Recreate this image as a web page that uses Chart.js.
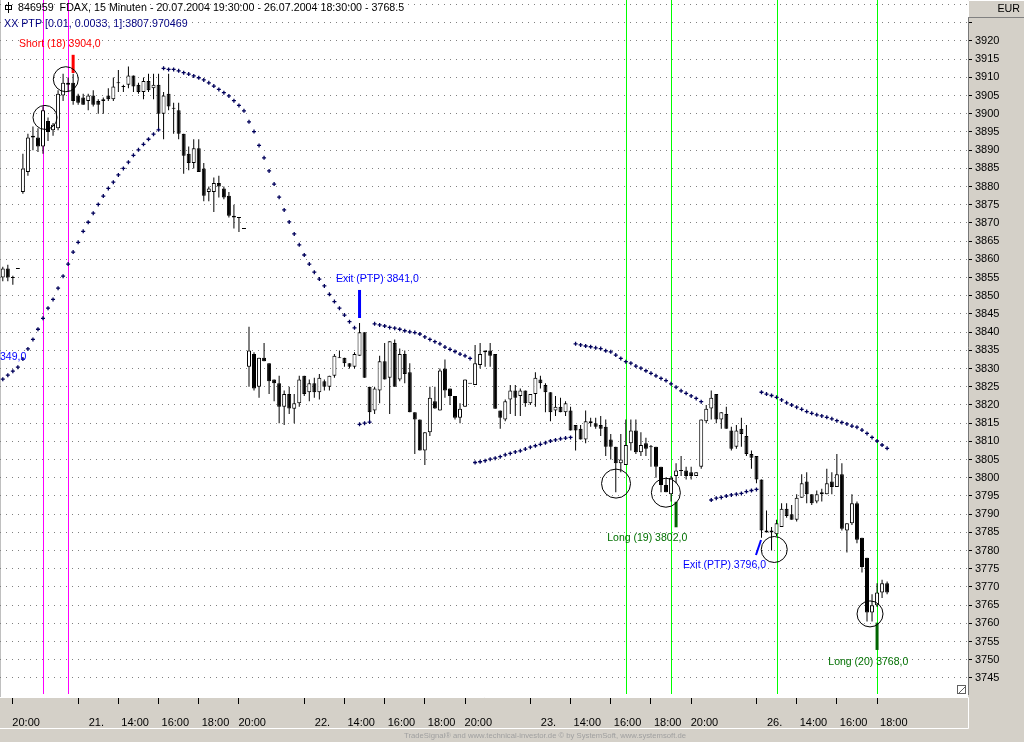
<!DOCTYPE html>
<html>
<head>
<meta charset="utf-8">
<title>FDAX 15 Minuten</title>
<script src="https://cdn.jsdelivr.net/npm/chart.js@4.4.1/dist/chart.umd.min.js"></script>
<style>
  html, body { margin: 0; padding: 0; background: #d4d0c8; }
  canvas { display: block; }
</style>
</head>
<body>
<canvas id="chart" width="1024" height="742"></canvas>
<script>
// one bar per 15 minutes, index 0 = 20.07.2004 19:30, index 176 = 26.07.2004 18:30
const opens = [
  3855, 3857.5, 3855, 3857.5, 3878.5, 3884, 3894, 3893.5, 3891, 3898,
  3895.5, 3896, 3905, 3908.5, 3908.5, 3905, 3904.5, 3903.5, 3905, 3903.5,
  3903.5, 3905, 3904, 3908.5, 3907.5, 3908, 3910.5, 3908, 3906, 3909,
  3907, 3908, 3900, 3905.5, 3901.5, 3901, 3894.5, 3889, 3886.5, 3890.5,
  3885, 3878.5, 3878.5, 3881, 3879.5, 3877.5, 3872, 3871.5, 3868.5, 3830.5,
  3834, 3825, 3833, 3831.5, 3827, 3826, 3819.5, 3823, 3819, 3820.5,
  3828, 3823.5, 3826, 3823.5, 3826.5, 3825, 3828, 3833, 3833, 3831.5,
  3830.5, 3833.5, 3840, 3825, 3818.5, 3824, 3832, 3827.5, 3837, 3827,
  3834, 3829, 3818, 3816, 3807.5, 3812.5, 3821, 3818.5, 3830, 3824.5,
  3822.5, 3816.5, 3819.5, 3826, 3825.5, 3831, 3834.5, 3835, 3834, 3818.5,
  3816, 3821.5, 3824, 3822.5, 3824, 3820.5, 3823, 3827, 3825.5, 3823.5,
  3818.5, 3819.5, 3818, 3818.5, 3814.5, 3813.5, 3810.5, 3815.5, 3815, 3814.5,
  3814, 3810.5, 3808.5, 3804, 3803.5, 3809.5, 3813, 3807, 3809.5, 3808.5,
  3808.5, 3803, 3798, 3795.5, 3800.5, 3802, 3802, 3801.5, 3800.5, 3803,
  3815.5, 3819, 3823, 3816, 3817.5, 3813, 3808.5, 3813.5, 3811.5, 3806.5,
  3806, 3799.5, 3785, 3785.5, 3784.5, 3786.5, 3791.5, 3790, 3788.5, 3794.5,
  3799, 3795.5, 3793.5, 3796, 3795.5, 3799, 3797.5, 3801, 3785.5, 3787.5,
  3793, 3783.5, 3778, 3763, 3765, 3768.5, 3771
];
const highs = [
  3858, 3858.5, 3855.5, 3857.5, 3889, 3894.5, 3896.5, 3896, 3902, 3899,
  3897.5, 3906.5, 3911, 3910, 3911, 3905.5, 3905.5, 3905.5, 3906.5, 3904,
  3904.5, 3907, 3910, 3912, 3908, 3913, 3910.5, 3908.5, 3910, 3911,
  3911, 3911, 3906, 3911, 3903, 3903, 3894.5, 3891, 3893, 3893,
  3886.5, 3880, 3882.5, 3883, 3880, 3878.5, 3875, 3871.5, 3868.5, 3841.5,
  3834.5, 3833, 3837, 3831.5, 3827, 3828, 3824, 3825, 3823, 3828,
  3828, 3827, 3827.5, 3828.5, 3827, 3828, 3834, 3835, 3833, 3831.5,
  3834.5, 3842.5, 3840, 3825, 3825, 3833.5, 3837, 3837.5, 3838, 3835.5,
  3835, 3831.5, 3818, 3816, 3812.5, 3825, 3825, 3830, 3832.5, 3824.5,
  3822.5, 3820.5, 3827, 3826, 3836.5, 3837, 3835, 3837, 3834, 3818.5,
  3821.5, 3825.5, 3825.5, 3824.5, 3824, 3823, 3829, 3828, 3826, 3823.5,
  3822.5, 3822, 3821, 3819.5, 3814.5, 3814.5, 3818.5, 3816.5, 3816.5, 3817,
  3816, 3812, 3808.5, 3812, 3816, 3816, 3816, 3812.5, 3811, 3809,
  3808.5, 3803, 3800, 3800.5, 3804, 3806, 3803, 3803, 3801.5, 3816,
  3820, 3824, 3823, 3818, 3819.5, 3814, 3814.5, 3816.5, 3814.5, 3807.5,
  3806, 3799.5, 3791, 3786.5, 3788.5, 3793, 3793, 3792.5, 3795.5, 3801,
  3801.5, 3795.5, 3796.5, 3797, 3802.5, 3801.5, 3806.5, 3804, 3787.5, 3795.5,
  3793.5, 3783.5, 3778, 3768, 3771, 3772, 3771.5
];
const lows = [
  3854, 3854, 3853, 3857.5, 3878, 3883, 3890, 3889.5, 3889, 3892.5,
  3894, 3895.5, 3903.5, 3906, 3902.5, 3902.5, 3902.5, 3901, 3902, 3900,
  3900, 3903.5, 3903.5, 3906, 3906, 3907, 3906, 3905.5, 3904, 3906,
  3904, 3895.5, 3893, 3901, 3894.5, 3893, 3883.5, 3884.5, 3885, 3884,
  3876, 3876, 3873, 3877, 3876.5, 3871.5, 3868.5, 3867.5, 3868.5, 3825,
  3824, 3822, 3832, 3823, 3821, 3815, 3814.5, 3817.5, 3815, 3819.5,
  3822.5, 3821, 3822, 3821.5, 3824, 3824, 3827.5, 3833, 3830.5, 3830,
  3830, 3833.5, 3827.5, 3815, 3817.5, 3820.5, 3827, 3817.5, 3825, 3826.5,
  3826, 3818, 3806.5, 3807.5, 3803.5, 3811.5, 3819, 3818.5, 3822, 3820,
  3816, 3815, 3819.5, 3826, 3825.5, 3830, 3830.5, 3830.5, 3819, 3813.5,
  3815.5, 3817.5, 3817, 3817, 3819.5, 3820, 3819.5, 3824.5, 3818, 3815.5,
  3817, 3818, 3817, 3813, 3807.5, 3810.5, 3809.5, 3814, 3813.5, 3811.5,
  3806, 3805, 3796, 3801.5, 3803.5, 3807.5, 3806.5, 3806, 3806, 3803,
  3800, 3796, 3796, 3793.5, 3798.5, 3800.5, 3799.5, 3799.5, 3800.5, 3802.5,
  3815, 3816, 3815, 3813.5, 3813.5, 3807.5, 3808, 3808.5, 3806, 3802.5,
  3798.5, 3783.5, 3785, 3780, 3784, 3786.5, 3789, 3788.5, 3788, 3794.5,
  3793, 3792.5, 3793, 3793.5, 3795.5, 3795.5, 3797.5, 3785.5, 3779.5, 3787,
  3782, 3774, 3760.5, 3760.5, 3764.5, 3767, 3768
];
const closes = [
  3857.5, 3855, 3855, 3857.5, 3885, 3893.5, 3893.5, 3891, 3901, 3895,
  3897, 3905.5, 3908.5, 3908, 3903.5, 3903, 3902.5, 3905, 3902.5, 3902.5,
  3904, 3904, 3907.5, 3908.5, 3907.3, 3910.5, 3907.5, 3906, 3909, 3906.5,
  3908, 3900, 3905, 3902, 3901.5, 3894.5, 3888.5, 3886.5, 3890.5, 3884,
  3877.5, 3879.5, 3881, 3880, 3877, 3872, 3871.5, 3871.5, 3868.5, 3835,
  3824.5, 3833, 3832, 3826.5, 3826, 3819.5, 3823, 3819, 3820.5, 3827,
  3823, 3826, 3823.5, 3827.5, 3825, 3828, 3833.5, 3833, 3831.5, 3830.5,
  3834, 3840, 3827.5, 3818, 3824.5, 3832, 3827, 3837.5, 3825, 3834,
  3828.5, 3818, 3816, 3807.5, 3812.5, 3822, 3819, 3829.5, 3824, 3822.5,
  3816.5, 3819, 3827, 3826, 3831.5, 3834, 3835, 3833.5, 3819, 3816.5,
  3821, 3824, 3822, 3824, 3820.5, 3823, 3827.5, 3826, 3823.5, 3818,
  3819.5, 3818, 3820.5, 3813, 3813, 3810.5, 3815.5, 3815, 3814, 3813.5,
  3808.5, 3808.5, 3804, 3805, 3809, 3813, 3807, 3809, 3808, 3808.5,
  3803, 3798, 3796, 3800, 3802, 3802, 3800.5, 3800.5, 3801.5, 3816,
  3819, 3822, 3816, 3818, 3813.5, 3808, 3813, 3812, 3806.5, 3805.5,
  3799.5, 3785.5, 3785.5, 3785, 3787.5, 3791.5, 3789.5, 3788.5, 3794.5, 3798.5,
  3795.5, 3793, 3795.5, 3795.5, 3798.5, 3797.5, 3801, 3786, 3787.5, 3793,
  3783, 3775.5, 3763, 3765, 3768.5, 3771, 3768.5
];

// PTP [0.01, 0.0033, 1] stop values, one per bar (null = no value drawn)
const ptpValues = [
  3827.1, 3828.2, 3829.3, 3830.4, 3832.6, 3835.4, 3838.0, 3840.8, 3843.8, 3846.6,
  3849.0, 3852.1, 3855.4, 3858.7, 3862.0, 3864.7, 3867.7, 3870.2, 3872.7, 3875.1,
  3877.4, 3879.5, 3881.2, 3883.2, 3885.0, 3886.7, 3888.6, 3890.1, 3891.6, 3893.0,
  3894.4, 3895.6, 3912.5, 3912.2, 3912.2, 3911.8, 3911.3, 3910.9, 3910.4, 3909.9,
  3909.3, 3908.5, 3907.6, 3906.7, 3905.8, 3904.9, 3903.6, 3902.3, 3900.8, 3897.8,
  3895.1, 3891.3, 3887.9, 3884.3, 3880.7, 3877.1, 3873.6, 3870.3, 3867.0, 3864.0,
  3861.2, 3858.7, 3856.5, 3854.6, 3852.7, 3850.4, 3848.4, 3846.6, 3844.7, 3842.9,
  3841.2, 3814.7, 3815.0, 3815.3, 3842.3, 3842.0, 3841.7, 3841.3, 3841.1, 3840.8,
  3840.4, 3840.1, 3839.9, 3839.5, 3838.7, 3838.0, 3837.4, 3836.8, 3835.9, 3835.3,
  3834.7, 3834.0, 3833.5, 3832.8, 3804.2, 3804.4, 3804.7, 3805.1, 3805.4, 3805.8,
  3806.3, 3806.7, 3807.1, 3807.4, 3807.9, 3808.4, 3808.8, 3809.2, 3809.6, 3810.1,
  3810.4, 3810.7, 3810.9, 3811.1, 3836.8, 3836.5, 3836.2, 3836.0, 3835.7, 3835.5,
  3834.9, 3834.6, 3833.7, 3832.8, 3831.9, 3831.5, 3830.7, 3830.1, 3829.4, 3828.7,
  3828.0, 3827.3, 3826.7, 3825.8, 3824.9, 3823.9, 3823.2, 3822.5, 3821.8, 3820.9,
  null,   3793.9, 3794.4, 3794.6, 3795.0, 3795.3, 3795.5, 3795.7, 3796.2, 3796.5,
  3796.8, 3823.5, 3823.0, 3822.6, 3822.1, 3821.4, 3820.6, 3820.0, 3819.4, 3818.8,
  3818.2, 3817.7, 3817.3, 3817.0, 3816.6, 3816.2, 3815.7, 3815.2, 3814.8, 3814.2,
  3813.9, 3813.1, 3812.2, 3811.1, 3810.1, 3809.0, 3808.1
];

// time axis
const xTickBars = [2, 15, 23, 31, 39, 47, 60, 68, 76, 84, 92, 105, 113, 121, 129, 137, 150, 158, 166, 174];
const xTickLabels = ['20:00', '21.', '14:00', '16:00', '18:00', '20:00', '22.', '14:00', '16:00', '18:00',
  '20:00', '23.', '14:00', '16:00', '18:00', '20:00', '26.', '14:00', '16:00', '18:00'];

// price axis
const yTickValues = [3745, 3750, 3755, 3760, 3765, 3770, 3775, 3780, 3785, 3790, 3795, 3800,
  3805, 3810, 3815, 3820, 3825, 3830, 3835, 3840, 3845, 3850, 3855, 3860, 3865, 3870,
  3875, 3880, 3885, 3890, 3895, 3900, 3905, 3910, 3915, 3920, 3925, 3930];
const yLabelMax = 3920;

// trade signals
const shortLineBars = [8, 13];
const longLineBars = [124, 133, 154, 174];
const markerBars = [14, 71, 134, 174];
const markerFrom = [3911.2, 3843.9, 3786.4, 3752.7];
const markerTo = [3916.2, 3851.6, 3793.4, 3760.2];
const circleBars = [8.4, 12.54, 122.05, 131.97, 153.54, 172.6];
const circlePrices = [3899.0, 3909.5, 3798.4, 3795.9, 3780.3, 3762.6];
const exitSlashBars = [149.9, 150.9];
const exitSlashPrices = [3778.8, 3782.9];
const signalTexts = ['Short (18) 3904,0', 'Exit (PTP) 3841,0', 'Long (19) 3802,0', 'Exit (PTP) 3796,0', 'Long (20) 3768,0', '349,0'];
const signalTextBars = [3.22, 66.3, 120.3, 135.4, 164.3, -0.55];
const signalTextPrices = [3919.2, 3854.6, 3783.5, 3776.0, 3749.4, 3833.2];

const FONT = "'Liberation Sans', Arial, sans-serif";
const X_MIN = -0.557, X_MAX = 192.1;
const BAR_PX = 5.024;

const wickData = opens.map((o, i) => ({ x: i, y: [lows[i], highs[i]] }));
const bodyData = opens.map((o, i) => {
  const c = closes[i];
  if (Math.abs(c - o) < 0.3) return { x: i, y: [o - 0.14, o + 0.14] };
  return { x: i, y: [o, c] };
});
const bodyFill = opens.map((o, i) => (closes[i] - o >= 0.3 ? '#ffffff' : '#000000'));

const markerColors = ['#ff0000', '#0000ff', '#006400', '#006400'];
const textColors = ['#ff0000', '#0000ff', '#007000', '#0000ff', '#007000', '#0000ff'];

const chromePlugin = {
  id: 'chrome',
  beforeDraw(chart) {
    const { ctx, chartArea: a } = chart;
    ctx.save();
    ctx.fillStyle = '#d4d0c8';
    ctx.fillRect(0, 0, chart.width, chart.height);
    ctx.fillStyle = '#ffffff';
    ctx.fillRect(a.left, a.top, a.right - a.left, a.bottom - a.top + 3);
    ctx.fillStyle = '#c0c0c0';
    ctx.fillRect(0, 0, 1, a.bottom + 3);
    // bottom time panel frame
    ctx.strokeStyle = '#ffffff';
    ctx.lineWidth = 1;
    ctx.beginPath();
    ctx.moveTo(0, 697.5); ctx.lineTo(a.right + 0.5, 697.5);
    ctx.moveTo(a.right + 0.5, 697.5); ctx.lineTo(a.right + 0.5, 728.5);
    ctx.moveTo(0, 728.5); ctx.lineTo(a.right + 0.5, 728.5);
    ctx.stroke();
    ctx.restore();
  },
  beforeDatasetsDraw(chart) {
    const { ctx, chartArea: a, scales } = chart;
    ctx.save();
    ctx.lineWidth = 1;
    const vline = (bar, color) => {
      const x = Math.round(scales.x.getPixelForValue(bar)) + 0.5;
      ctx.strokeStyle = color;
      ctx.beginPath();
      ctx.moveTo(x, a.top);
      ctx.lineTo(x, a.bottom);
      ctx.stroke();
    };
    shortLineBars.forEach(b => vline(b, '#ff00ff'));
    longLineBars.forEach(b => vline(b, '#00ff00'));
    ctx.restore();
  },
  afterDatasetsDraw(chart) {
    const { ctx, scales, chartArea: a } = chart;
    ctx.save();
    ctx.font = '10.5px ' + FONT;
    ctx.textBaseline = 'middle';
    ctx.textAlign = 'left';
    signalTexts.forEach((t, k) => {
      ctx.fillStyle = textColors[k];
      ctx.fillText(t, scales.x.getPixelForValue(signalTextBars[k]), scales.y.getPixelForValue(signalTextPrices[k]));
    });
    // size grip in the lower right corner of the plot
    ctx.strokeStyle = '#606060';
    ctx.lineWidth = 1;
    ctx.strokeRect(a.right - 10.5, a.bottom - 8.5, 8, 8);
    ctx.beginPath();
    ctx.moveTo(a.right - 9, a.bottom - 1);
    ctx.lineTo(a.right - 3, a.bottom - 7);
    ctx.stroke();
    ctx.restore();
  },
  afterDraw(chart) {
    const { ctx, chartArea: a } = chart;
    ctx.save();
    // header
    ctx.strokeStyle = '#000';
    ctx.lineWidth = 1;
    ctx.strokeRect(5.5, 5.5, 6, 4);
    ctx.beginPath();
    ctx.moveTo(8.5, 2); ctx.lineTo(8.5, 13);
    ctx.stroke();
    ctx.font = '10.7px ' + FONT;
    ctx.textBaseline = 'middle';
    ctx.fillStyle = '#000000';
    ctx.fillText('846959  FDAX, 15 Minuten - 20.07.2004 19:30:00 - 26.07.2004 18:30:00 - 3768.5', 18, 8);
    ctx.fillStyle = '#000080';
    ctx.fillText('XX PTP [0.01, 0.0033, 1]:3807.970469', 4, 24);
    // currency box above price axis
    ctx.fillStyle = '#d4d0c8';
    ctx.fillRect(a.right, 0, chart.width - a.right, 18);
    ctx.strokeStyle = '#ffffff';
    ctx.beginPath();
    ctx.moveTo(a.right + 0.5, 17); ctx.lineTo(a.right + 0.5, 0.5); ctx.lineTo(chart.width, 0.5);
    ctx.stroke();
    ctx.strokeStyle = '#808080';
    ctx.beginPath();
    ctx.moveTo(a.right, 17.5); ctx.lineTo(chart.width, 17.5);
    ctx.stroke();
    ctx.fillStyle = '#000000';
    ctx.textAlign = 'right';
    ctx.fillText('EUR', 1020, 9);
    // footer
    ctx.textAlign = 'center';
    ctx.font = '7.7px ' + FONT;
    ctx.fillStyle = '#a0a0a0';
    ctx.fillText('TradeSignal\u00ae and www.technical-investor.de \u00a9 by SystemSoft, www.systemsoft.de', 545, 736);
    ctx.restore();
  }
};

new Chart(document.getElementById('chart'), {
  type: 'bar',
  data: {
    datasets: [
      {
        type: 'bar', label: 'wick', data: wickData, order: 6, grouped: false,
        barThickness: 1, backgroundColor: '#000000', borderWidth: 0, inflateAmount: 0
      },
      {
        type: 'bar', label: 'body', data: bodyData, order: 5, grouped: false,
        barThickness: 4, backgroundColor: bodyFill, borderColor: '#000000', borderWidth: 1,
        borderSkipped: false, inflateAmount: 0
      },
      {
        type: 'scatter', label: 'PTP', order: 4,
        data: ptpValues.map((v, i) => ({ x: i, y: v })),
        pointStyle: 'cross', pointRadius: 2, borderWidth: 1.3, borderColor: '#00005a'
      },
      {
        type: 'bar', label: 'marker', order: 3, grouped: false,
        data: markerBars.map((b, k) => ({ x: b, y: [markerFrom[k], markerTo[k]] })),
        barThickness: 3, backgroundColor: markerColors, borderWidth: 0, inflateAmount: 0
      },
      {
        type: 'line', label: 'exit', order: 2,
        data: exitSlashBars.map((b, k) => ({ x: b, y: exitSlashPrices[k] })),
        borderColor: '#0000ff', borderWidth: 2, pointRadius: 0
      },
      {
        type: 'scatter', label: 'circle', order: 1,
        data: circleBars.map((b, k) => ({ x: b, y: circlePrices[k] })),
        pointStyle: 'circle', pointRadius: [12, 12.5, 14.5, 14.5, 13, 13],
        backgroundColor: 'rgba(0,0,0,0)', borderColor: '#000000', borderWidth: 1
      }
    ]
  },
  options: {
    responsive: false,
    animation: false,
    devicePixelRatio: 1,
    layout: { autoPadding: false, padding: { left: 0, right: 0, top: 0, bottom: 14 } },
    plugins: { legend: { display: false }, tooltip: { enabled: false } },
    scales: {
      x: {
        type: 'linear', position: 'bottom', min: X_MIN, max: X_MAX, offset: false, weight: 0,
        afterBuildTicks: s => { s.ticks = xTickBars.map(v => ({ value: v })); },
        afterFit: s => { s.height = 10; s.paddingLeft = 0; s.paddingRight = 0; },
        ticks: { display: false },
        grid: {
          display: true, offset: false, drawOnChartArea: false, drawTicks: true,
          tickLength: 10, tickColor: '#000000', tickWidth: 1, tickBorderDash: [0, 4, 6, 100]
        },
        border: { display: false }
      },
      xl: {
        type: 'linear', position: 'bottom', min: X_MIN, max: X_MAX, offset: false, weight: 1,
        afterBuildTicks: s => {
          s.ticks = xTickBars.map((b, k) => {
            const lab = xTickLabels[k];
            const shiftPx = lab.endsWith('.') ? 10.5 : (lab.startsWith('1') ? 3 : -0.5);
            return { value: b + shiftPx / BAR_PX };
          });
        },
        afterFit: s => { s.height = 24; s.paddingLeft = 0; s.paddingRight = 0; },
        ticks: {
          autoSkip: false, maxRotation: 0, minRotation: 0, align: 'start', padding: 4,
          color: '#000000', font: { family: FONT, size: 11 },
          callback: (v, k) => xTickLabels[k]
        },
        grid: { display: false },
        border: { display: false }
      },
      y: {
        type: 'linear', position: 'right', min: 3740.6, max: 3931.26, beginAtZero: false,
        afterBuildTicks: s => { s.ticks = yTickValues.map(v => ({ value: v })); },
        afterFit: s => { s.width = 56; s.paddingTop = 0; s.paddingBottom = 0; },
        ticks: {
          padding: 3, color: '#000000', font: { family: FONT, size: 11 },
          callback: v => (v <= yLabelMax ? String(v) : '')
        },
        grid: {
          color: '#808080', lineWidth: 1, drawOnChartArea: true, drawTicks: true,
          tickLength: 4, tickColor: '#000000', tickBorderDash: [], tickBorderDashOffset: 0
        },
        border: { display: true, color: '#777777', dash: [1, 5], dashOffset: 0 }
      }
    }
  },
  plugins: [chromePlugin]
});
</script>
</body>
</html>
